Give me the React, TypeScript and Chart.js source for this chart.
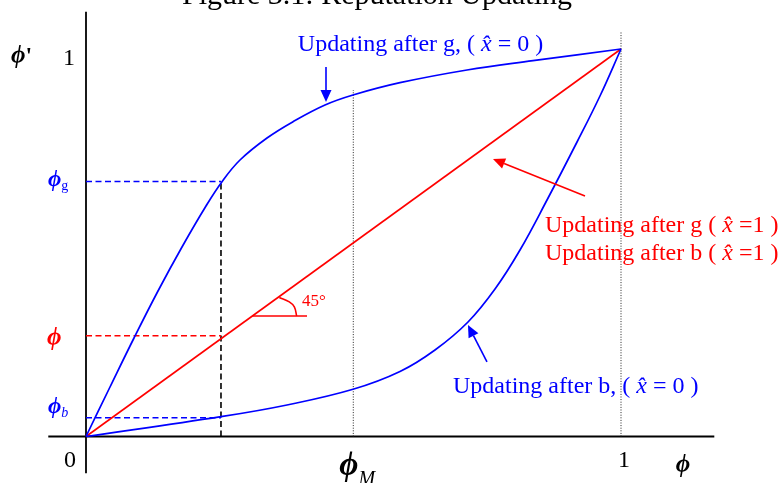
import React, { useEffect, useRef } from "react";
import { Chart, registerables } from "chart.js";

Chart.register(...registerables);

const SERIF = '"Liberation Serif", "Times New Roman", "DejaVu Serif", serif';
const BLUE = "#0000ff";
const RED = "#ff0000";
const BLACK = "#000000";

// ---- data (model units: phi on x, phi' on y) ----
const upperX = [0, 0.04486, 0.08972, 0.13458, 0.17944, 0.2243, 0.25421, 0.28785, 0.33832, 0.38692, 0.44673, 0.49907, 0.58692, 0.71215, 0.83551, 1];
const upperY = [0, 0.12774, 0.25419, 0.37548, 0.48903, 0.59484, 0.65755, 0.71355, 0.77032, 0.81239, 0.85548, 0.88129, 0.91303, 0.94581, 0.96981, 1];

const lowerX = [0, 0.2523, 0.3757, 0.4991, 0.5869, 0.6523, 0.714, 0.7645, 0.8112, 0.8617, 0.9178, 0.9607, 1];
const lowerY = [0, 0.0511, 0.0813, 0.1218, 0.1677, 0.2232, 0.2955, 0.3806, 0.4813, 0.6103, 0.76, 0.8787, 1];

const diagX = [0, 1];
const diagY = [0, 1];

const phiG = 0.658;
const phiVal = 0.26;
const phiB = 0.0485;
const phiDashX = 0.2523;
const phiM = 0.4996;
const phiMTop = 0.894;
const oneTop = 1.044;

const xAxisRange = [-0.0705, 1.1744];
const yAxisRange = [-0.095, 1.0962];

const angleLineX = [0.3103, 0.4131];
const angleLineY = [0.311, 0.311];
const angleArcX = [0.3613, 0.38, 0.3894, 0.3938];
const angleArcY = [0.3587, 0.3475, 0.3346, 0.311];

const arrowTopBlue = { from: [0.4486, 0.9535], to: [0.4486, 0.8632] };
const arrowRed = { from: [0.9327, 0.6206], to: [0.7607, 0.7161] };
const arrowLowBlue = { from: [0.7495, 0.1923], to: [0.714, 0.2877] };

const xTickLabels = ["0", "1"];
const yTickLabels = ["1"];

const titleText = "Figure 3.1: Reputation Updating";
const labelUpperG = ["Updating after g, ( ", "x\u0302", " = 0 )"];
const labelRedG = ["Updating after g ( ", "x\u0302", " =1 )"];
const labelRedB = ["Updating after b ( ", "x\u0302", " =1 )"];
const labelLowerB = ["Updating after b, ( ", "x\u0302", " = 0 )"];

const pts = (xs: number[], ys: number[]) => xs.map((x, i) => ({ x, y: ys[i] }));

const f = (size: number, style = "") => `${style} ${size}px ${SERIF}`.trim();

type Part = { t: string; font: string; color?: string; dy?: number };

function drawRich(ctx: CanvasRenderingContext2D, parts: Part[], x: number, y: number, align: "left" | "center" | "right", color: string) {
  const widths = parts.map((p) => {
    ctx.font = p.font;
    return ctx.measureText(p.t).width;
  });
  const total = widths.reduce((a, b) => a + b, 0);
  let cx = align === "left" ? x : align === "center" ? x - total / 2 : x - total;
  parts.forEach((p, i) => {
    ctx.font = p.font;
    ctx.fillStyle = p.color || color;
    ctx.fillText(p.t, cx, y + (p.dy || 0));
    cx += widths[i];
  });
}

function drawArrow(ctx: CanvasRenderingContext2D, x1: number, y1: number, x2: number, y2: number, color: string) {
  const ang = Math.atan2(y2 - y1, x2 - x1);
  const len = 12;
  const half = 5.5;
  const bx = x2 - len * Math.cos(ang);
  const by = y2 - len * Math.sin(ang);
  ctx.save();
  ctx.strokeStyle = color;
  ctx.fillStyle = color;
  ctx.lineWidth = 1.6;
  ctx.beginPath();
  ctx.moveTo(x1, y1);
  ctx.lineTo(bx, by);
  ctx.stroke();
  ctx.beginPath();
  ctx.moveTo(x2, y2);
  ctx.lineTo(bx + half * Math.sin(ang), by - half * Math.cos(ang));
  ctx.lineTo(bx - half * Math.sin(ang), by + half * Math.cos(ang));
  ctx.closePath();
  ctx.fill();
  ctx.restore();
}

const annotationPlugin = {
  id: "annotations",
  afterDatasetsDraw(chart: any) {
    const ctx: CanvasRenderingContext2D = chart.ctx;
    const xs = chart.scales.x;
    const ys = chart.scales.y;
    const X = (v: number) => xs.getPixelForValue(v);
    const Y = (v: number) => ys.getPixelForValue(v);
    ctx.save();
    ctx.textBaseline = "alphabetic";
    ctx.textAlign = "left";

    // arrows
    [
      [arrowTopBlue, BLUE],
      [arrowRed, RED],
      [arrowLowBlue, BLUE],
    ].forEach(([a, c]: any) => drawArrow(ctx, X(a.from[0]), Y(a.from[1]), X(a.to[0]), Y(a.to[1]), c));

    // title (partly cut off at top)
    drawRich(ctx, [{ t: titleText, font: f(30) }], 377, 4, "center", BLACK);

    // tick labels
    drawRich(ctx, [{ t: yTickLabels[0], font: f(24) }], X(0) - 11, Y(1) + 16, "right", BLACK);
    drawRich(ctx, [{ t: xTickLabels[0], font: f(24) }], X(0) - 10, Y(0) + 30.5, "right", BLACK);
    drawRich(ctx, [{ t: xTickLabels[1], font: f(24) }], X(1) + 3, Y(0) + 30.5, "center", BLACK);

    // axis titles
    drawRich(ctx, [{ t: "\u03D5", font: f(25, "italic bold") }, { t: "'", font: f(24, "bold") }], X(0) - 75, Y(1) + 14, "left", BLACK);
    drawRich(ctx, [{ t: "\u03D5", font: f(25, "italic bold") }], X(1) + 62, Y(0) + 36, "center", BLACK);
    drawRich(
      ctx,
      [
        { t: "\u03D5", font: f(33, "italic bold") },
        { t: "M", font: f(20, "italic"), dy: 10 },
      ],
      X(phiM) - 14,
      Y(0) + 39,
      "left",
      BLACK
    );

    // left value labels
    drawRich(ctx, [{ t: "\u03D5", font: f(23, "italic bold") }, { t: "g", font: f(14), dy: 4 }], X(0) - 38, Y(phiG) + 4, "left", BLUE);
    drawRich(ctx, [{ t: "\u03D5", font: f(25, "italic bold") }], X(0) - 39, Y(phiVal) + 9, "left", RED);
    drawRich(ctx, [{ t: "\u03D5", font: f(23, "italic bold") }, { t: "b", font: f(14, "italic"), dy: 4 }], X(0) - 38, Y(phiB) - 5, "left", BLUE);

    // 45 degree label
    drawRich(ctx, [{ t: "45\u00B0", font: f(17) }], X(angleLineX[0]) + 50, Y(angleLineY[0]) - 10, "left", RED);

    // curve labels
    const eq = (p: string[]): Part[] => [
      { t: p[0], font: f(24) },
      { t: p[1], font: f(24, "italic") },
      { t: p[2], font: f(24) },
    ];
    drawRich(ctx, eq(labelUpperG), X(0.3959), Y(0.9955), "left", BLUE);
    drawRich(ctx, eq(labelRedG), X(0.8579), Y(0.5277), "left", RED);
    drawRich(ctx, eq(labelRedB), X(0.8579), Y(0.4555), "left", RED);
    drawRich(ctx, eq(labelLowerB), X(0.686), Y(0.1123), "left", BLUE);

    ctx.restore();
  },
};

export default function App() {
  const ref = useRef<HTMLCanvasElement | null>(null);

  useEffect(() => {
    if (!ref.current) return;
    const line = (data: any[], color: string, width: number, extra: any = {}) => ({
      data,
      borderColor: color,
      backgroundColor: color,
      borderWidth: width,
      showLine: true,
      pointRadius: 0,
      pointHoverRadius: 0,
      fill: false,
      ...extra,
    });
    const dash = [6, 3.5];
    const dot = [1, 1.6];
    const chart = new Chart(ref.current, {
      type: "scatter",
      data: {
        datasets: [
          line(pts(upperX, upperY), BLUE, 1.7, { tension: 0.4 }),
          line(pts(lowerX, lowerY), BLUE, 1.7, { tension: 0.4 }),
          line(pts(diagX, diagY), RED, 1.6),
          line(pts(angleLineX, angleLineY), RED, 1.6),
          line(pts(angleArcX, angleArcY), RED, 1.6, { tension: 0.4 }),
          line(pts([0, phiDashX], [phiG, phiG]), BLUE, 1.6, { borderDash: dash }),
          line(pts([0, phiDashX], [phiVal, phiVal]), RED, 1.6, { borderDash: dash }),
          line(pts([0, phiDashX], [phiB, phiB]), BLUE, 1.6, { borderDash: dash }),
          line(pts([phiDashX, phiDashX], [0, phiG]), BLACK, 1.6, { borderDash: dash }),
          line(pts([phiM, phiM], [0, phiMTop]), "#222222", 1, { borderDash: dot }),
          line(pts([1, 1], [0, oneTop]), "#222222", 1, { borderDash: dot }),
          line(pts(xAxisRange, [0, 0]), BLACK, 1.8),
          line(pts([0, 0], yAxisRange), BLACK, 1.8),
        ],
      },
      options: {
        responsive: false,
        animation: false,
        devicePixelRatio: 1,
        layout: { padding: 0 },
        events: [],
        plugins: {
          legend: { display: false },
          tooltip: { enabled: false },
          title: { display: false },
        },
        scales: {
          x: { type: "linear", display: false, min: -0.16075, max: 1.30093 },
          y: { type: "linear", display: false, min: -0.12, max: 1.12645 },
        },
      },
      plugins: [annotationPlugin],
    } as any);
    return () => chart.destroy();
  }, []);

  return (
    <div style={{ position: "fixed", left: 0, top: 0, width: 782, height: 483, background: "#ffffff" }}>
      <canvas ref={ref} width={782} height={483} style={{ display: "block", width: 782, height: 483 }} />
    </div>
  );
}
